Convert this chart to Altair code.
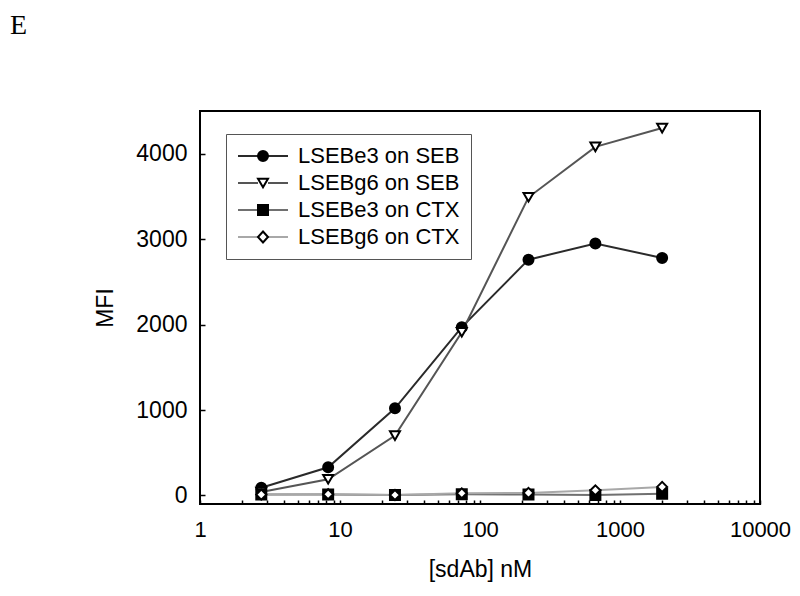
import altair as alt
import pandas as pd

# ---- data ----
conc = [2.74, 8.23, 24.7, 74.1, 222, 667, 2000]
series = ["LSEBe3 on SEB", "LSEBg6 on SEB", "LSEBe3 on CTX", "LSEBg6 on CTX"]
e3_seb = [90, 330, 1020, 1970, 2760, 2950, 2780]
g6_seb = [40, 190, 700, 1910, 3490, 4080, 4300]
e3_ctx = [10, 10, 5, 15, 10, 5, 20]
g6_ctx = [10, 15, 5, 25, 30, 60, 100]

x_major = [1, 10, 100, 1000, 10000]
x_minor = [2, 3, 4, 5, 6, 7, 8, 9,
           20, 30, 40, 50, 60, 70, 80, 90,
           200, 300, 400, 500, 600, 700, 800, 900,
           2000, 3000, 4000, 5000, 6000, 7000, 8000, 9000]
y_ticks = [0, 1000, 2000, 3000, 4000]
panel_label = ["E"]

# ---- styles ----
line_colors = ["#2a2a2a", "#555555", "#707070", "#a8a8a8"]
marker_shapes = ["circle", "triangle-down", "square", "diamond"]
marker_fills = ["#000000", "#ffffff", "#000000", "#ffffff"]
marker_strokes = ["#000000", "#000000", "#000000", "#000000"]
# legend symbols (unit = 5px): marker centred 3 units right of the symbol origin
legend_marker_paths = [
    "M4,0A1,1,0,1,1,2,0A1,1,0,1,1,4,0Z",
    "M3,0.866L2,-0.866L4,-0.866Z",
    "M2,-1L4,-1L4,1L2,1Z",
    "M3,-1.1L4,0L3,1.1L2,0Z",
]
legend_line_path = "M-2,0L2,0M4,0L8,0"

rows = []
for s, vals in zip(series, [e3_seb, g6_seb, e3_ctx, g6_ctx]):
    for c, v in zip(conc, vals):
        rows.append({"conc": c, "mfi": v, "series": s})
df = pd.DataFrame(rows)

FONT = "Liberation Sans"
FS = 23

x_enc = alt.X(
    "conc:Q",
    scale=alt.Scale(type="log", domain=[1, 10000], nice=False),
    axis=alt.Axis(
        values=x_major + x_minor,
        labelExpr="indexof([1,10,100,1000,10000], datum.value) >= 0 ? datum.value : ''",
        grid=False, domain=False, tickSize=4, tickWidth=1.5, tickColor="black",
        offset=-4, labelPadding=15, labelFont=FONT, labelFontSize=22,
        labelColor="black", labelFlush=False, labelOverlap=False,
        title="[sdAb] nM", titleFont=FONT, titleFontSize=FS,
        titleFontWeight="normal", titleColor="black", titlePadding=18,
    ),
)
y_enc = alt.Y(
    "mfi:Q",
    scale=alt.Scale(domain=[-100, 4500], nice=False, zero=False),
    axis=alt.Axis(
        values=y_ticks, format="d", grid=False, domain=False, tickSize=5,
        tickWidth=1.5, tickColor="black", offset=-5, labelPadding=13,
        labelFont=FONT, labelFontSize=FS, labelColor="black",
        title="MFI", titleFont=FONT, titleFontSize=FS,
        titleFontWeight="normal", titleColor="black", titlePadding=18,
    ),
)

base = alt.Chart(df)

lines = base.mark_line(strokeWidth=2).encode(
    x=x_enc, y=y_enc,
    color=alt.Color("series:N", scale=alt.Scale(domain=series, range=line_colors), legend=None),
)

points = base.mark_point(filled=True, opacity=1, stroke="black", strokeWidth=2, size=100).encode(
    x=x_enc, y=y_enc,
    shape=alt.Shape("series:N", scale=alt.Scale(domain=series, range=marker_shapes), legend=None),
    fill=alt.Fill("series:N", scale=alt.Scale(domain=series, range=marker_fills), legend=None),
)

legend_common = dict(
    orient="none", legendX=26, legendY=23, padding=11, rowPadding=5,
    labelFont=FONT, labelFontSize=22, labelColor="black", labelLimit=400,
    labelOffset=39, symbolSize=100, symbolStrokeWidth=2, title=None,
    symbolOpacity=1,
)

# legend 1: the line segments + labels + frame
legend_lines = (
    base.transform_filter("false")
    .transform_calculate(entry="datum.series")
    .mark_point(opacity=1)
    .encode(
        x=x_enc, y=y_enc,
        stroke=alt.Stroke(
            "entry:N", scale=alt.Scale(domain=series, range=line_colors),
            legend=alt.Legend(symbolType=legend_line_path, strokeColor="#555555", **legend_common),
        ),
    )
)

# legend 2: the markers (labels hidden, they sit under legend 1's labels)
legend_marks_legend = alt.Legend(labelOpacity=0, **legend_common)
legend_marks = (
    base.transform_filter("false")
    .mark_point(filled=True, opacity=1, strokeWidth=2)
    .encode(
        x=x_enc, y=y_enc,
        shape=alt.Shape("series:N", scale=alt.Scale(domain=series, range=legend_marker_paths),
                        legend=legend_marks_legend),
        fill=alt.Fill("series:N", scale=alt.Scale(domain=series, range=marker_fills),
                      legend=legend_marks_legend),
        stroke=alt.Stroke("series:N", scale=alt.Scale(domain=series, range=marker_strokes),
                          legend=legend_marks_legend),
    )
)

label_df = pd.DataFrame({"t": panel_label})
panel = alt.Chart(label_df).mark_text(
    font="Liberation Serif", fontSize=28, align="left", baseline="alphabetic", color="black"
).encode(text="t:N", x=alt.value(-190), y=alt.value(-77))

chart = (
    alt.layer(lines, points, legend_lines, legend_marks, panel)
    .resolve_scale(shape="independent", fill="independent", stroke="independent")
    .properties(
        width=560, height=393,
        autosize=alt.AutoSizeParams(type="none"),
        padding={"left": 192, "top": 103, "right": 32, "bottom": 80},
    )
    .configure(background="white")
    .configure_view(stroke="black", strokeWidth=2)
)

chart.save("out.html", embed_options={"renderer": "svg", "actions": False})
